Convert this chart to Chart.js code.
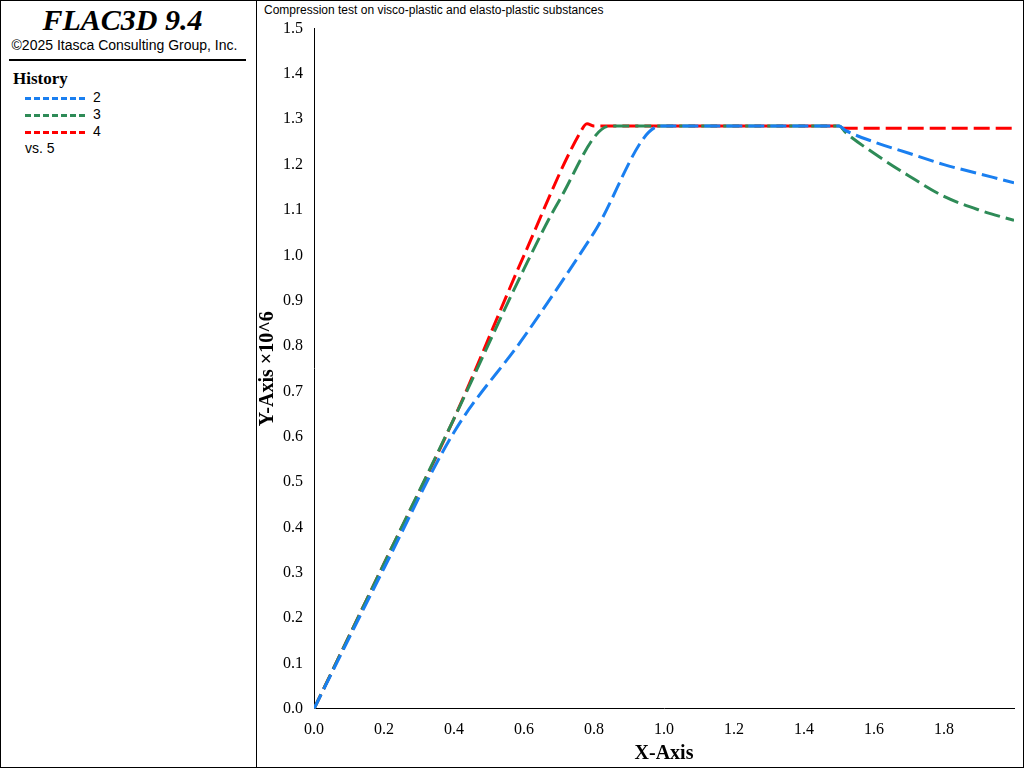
<!DOCTYPE html>
<html><head><meta charset="utf-8">
<script src="https://cdn.jsdelivr.net/npm/chart.js@4/dist/chart.umd.min.js"></script>
<style>
body{margin:0;background:#fff;font-family:"Liberation Sans",Arial,sans-serif}
#left{position:absolute;left:0;top:0;width:255px;height:766px;border:1px solid #000}
#right{position:absolute;left:256px;top:0;width:766px;height:766px;border:1px solid #000}
#ttl{font:italic bold 30px "Liberation Serif",serif;text-align:center;margin-top:2px;margin-left:-12px}
#cp{font-size:14px;text-align:center;margin-left:-8px}
#hr{border-top:2px solid #000;margin:6px 10px 0 8px}
#hist{font:bold 17px "Liberation Serif",serif;margin:8px 0 0 12px}
.lg{font-size:14px;margin-left:24px;height:17px;position:relative}
.lg span{display:inline-block;width:60px;height:0;border-top:3px dashed;vertical-align:middle;margin-right:8px}
#head{position:absolute;left:264px;top:3px;font-size:12px}
#wrap{position:absolute;left:256px;top:16px;width:768px;height:752px}
</style></head><body>
<div id="left"><div id="ttl">FLAC3D 9.4</div><div id="cp">©2025 Itasca Consulting Group, Inc.</div><div id="hr"></div>
<div id="hist">History</div>
<div class="lg"><span style="border-color:#1a7ff0"></span>2</div>
<div class="lg"><span style="border-color:#2e8b57"></span>3</div>
<div class="lg"><span style="border-color:#f00"></span>4</div>
<div class="lg">vs. 5</div></div>
<div id="right"></div>
<div id="head">Compression test on visco-plastic and elasto-plastic substances</div>
<div id="wrap"><canvas id="c" width="766" height="750"></canvas></div>
<script>
var labels2 = ['2','3','4'];
var h2x = [0,0.2,0.4,0.6,0.8,0.99,1.2,1.5,1.52,1.6,1.7,1.8,1.9,2.0];
var h2y = [0,0.31,0.61,0.82,1.05,1.285,1.285,1.285,1.275,1.25,1.225,1.2,1.18,1.16];
var h3x = [0,0.2,0.4,0.6,0.7,0.845,1.2,1.5,1.52,1.6,1.7,1.8,1.9,2.0];
var h3y = [0,0.32,0.64,0.97,1.12,1.285,1.285,1.285,1.27,1.225,1.175,1.13,1.1,1.077];
var h4x = [0,0.2,0.4,0.6,0.76,0.78,0.8,1.2,1.5,1.51,2.0];
var h4y = [0,0.32,0.64,1.0,1.27,1.29,1.285,1.285,1.285,1.28,1.28];
var colors = ['#1a7ff0','#2e8b57','#ff0000'];
function pts(xs,ys){return xs.map(function(x,i){return {x:x,y:ys[i]};});}
var sets=[[h2x,h2y],[h3x,h3y],[h4x,h4y]].map(function(s,i){
  return {label:labels2[i],data:pts(s[0],s[1]),borderColor:colors[i],borderWidth:3,borderDash:[16,6],pointRadius:0,fill:false,cubicInterpolationMode:'monotone'};
});
new Chart(document.getElementById('c'),{type:'line',data:{datasets:sets},
 options:{responsive:false,animation:false,
  layout:{padding:{left:0,right:8,top:0,bottom:0}},
  plugins:{legend:{display:false},tooltip:{enabled:false}},
  scales:{
   x:{type:'linear',min:0,max:2,grid:{display:false},border:{color:'#000'},
      ticks:{stepSize:0.2,color:'#000',font:{family:'Liberation Serif',size:16},callback:function(v){return v>=1.99?'':v.toFixed(1);}},
      title:{display:true,text:'X-Axis',color:'#000',font:{family:'Liberation Serif',size:20,weight:'bold'},padding:0}},
   y:{min:0,max:1.5,grid:{display:false},border:{color:'#000'},
      ticks:{stepSize:0.1,color:'#000',font:{family:'Liberation Serif',size:16},callback:function(v){return v.toFixed(1);}},
      title:{display:true,text:'Y-Axis ×10^6',color:'#000',font:{family:'Liberation Serif',size:20,weight:'bold'},padding:0}}
  }}});
</script>
</body></html>
